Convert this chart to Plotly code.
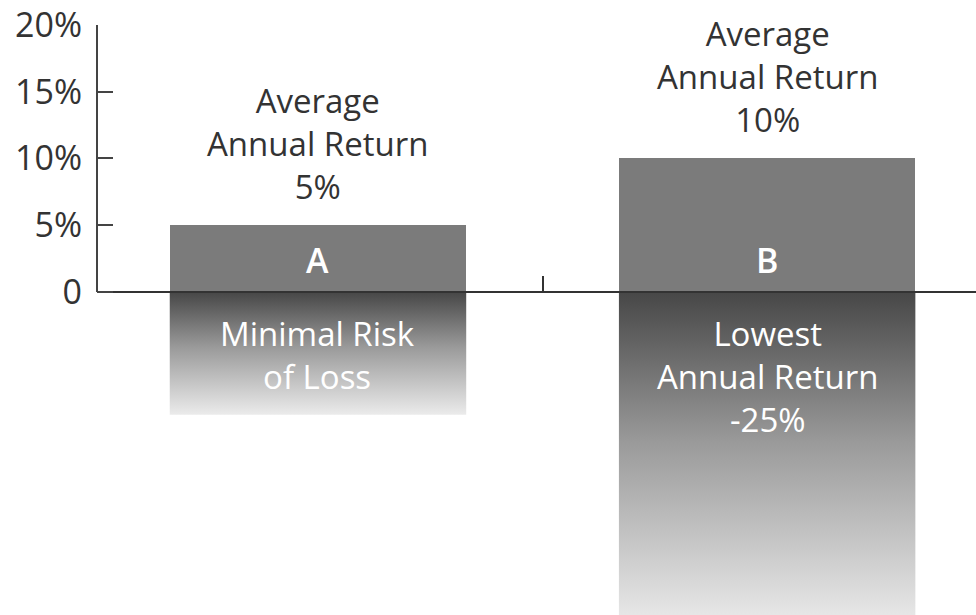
import plotly.graph_objects as go

# Two hypothetical investments: average annual return vs. worst-year return (%)
categories = ["A", "B"]
cat_pos = [0, 1]
avg_return = [5, 10]
avg_labels = ["Average<br>Annual Return<br>5%", "Average<br>Annual Return<br>10%"]
low_return = [-9.2, -25]
low_labels = ["Minimal Risk<br>of Loss", "Lowest<br>Annual Return<br>-25%"]
y_tickvals = [0, 5, 10, 15, 20]
y_ticktext = ["0", "5%", "10%", "15%", "20%"]

FONT = "Open Sans"
BAR_W = 0.66
Y_RANGE = [-24.2, 20]
X_RANGE = [-0.492, 1.465]

fig = go.Figure()

# downside portion: vertical gradient from dark (at zero) to near-white
for xc, lo in zip(cat_pos, low_return):
    fig.add_trace(go.Scatter(
        x=[xc - BAR_W / 2, xc + BAR_W / 2, xc + BAR_W / 2, xc - BAR_W / 2, xc - BAR_W / 2],
        y=[0, 0, lo, lo, 0],
        mode="lines", line=dict(width=0), fill="toself",
        fillgradient=dict(type="vertical",
                          colorscale=[[0, "#ebebeb"], [0.55, "#9a9a9a"], [1, "#474747"]]),
        hoverinfo="skip", showlegend=False,
    ))

# upside portion: average annual return
fig.add_trace(go.Bar(
    x=cat_pos, y=avg_return, width=BAR_W,
    marker=dict(color="#7b7b7b", line=dict(width=0)),
    showlegend=False, hoverinfo="skip",
))

annotations = []
for xc, name, v, lab, lo_lab in zip(cat_pos, categories, avg_return, avg_labels, low_labels):
    annotations.append(dict(x=xc, y=v, text=lab, showarrow=False, yanchor="bottom",
                            yshift=14, font=dict(family=FONT, size=33, color="#333333")))
    annotations.append(dict(x=xc, y=0, text=name, showarrow=False, yanchor="middle",
                            yshift=32, font=dict(family=FONT, size=34, color="white",
                                                 weight=600)))
    annotations.append(dict(x=xc, y=0, text=lo_lab, showarrow=False, yanchor="top",
                            yshift=-17, font=dict(family=FONT, size=33, color="white")))

# zero baseline as a free x axis positioned at y = 0
zero_pos = (0 - Y_RANGE[0]) / (Y_RANGE[1] - Y_RANGE[0])

fig.update_layout(
    width=976, height=615,
    margin=dict(l=97, r=0, t=25, b=0),
    paper_bgcolor="white", plot_bgcolor="white",
    font=dict(family=FONT, color="#333333"),
    bargap=0,
    annotations=annotations,
    xaxis=dict(range=X_RANGE, anchor="free", position=zero_pos,
               showline=True, linecolor="#333333", linewidth=2,
               tickvals=[0.5], ticks="inside", ticklen=15, tickwidth=2, tickcolor="#333333",
               showticklabels=False, showgrid=False, zeroline=False, fixedrange=True),
    yaxis=dict(range=Y_RANGE, tickvals=y_tickvals, ticktext=y_ticktext,
               ticks="inside", ticklen=16, tickwidth=2, tickcolor="#444444",
               ticklabelstandoff=14,
               tickfont=dict(family=FONT, size=34, color="#333333"),
               showline=False, showgrid=False, zeroline=False, fixedrange=True),
    shapes=[dict(type="line", xref="paper", x0=0, x1=0, yref="y",
                 y0=y_tickvals[0], y1=y_tickvals[-1],
                 line=dict(color="#444444", width=2), layer="above")],
)

fig.write_html("out.html")
